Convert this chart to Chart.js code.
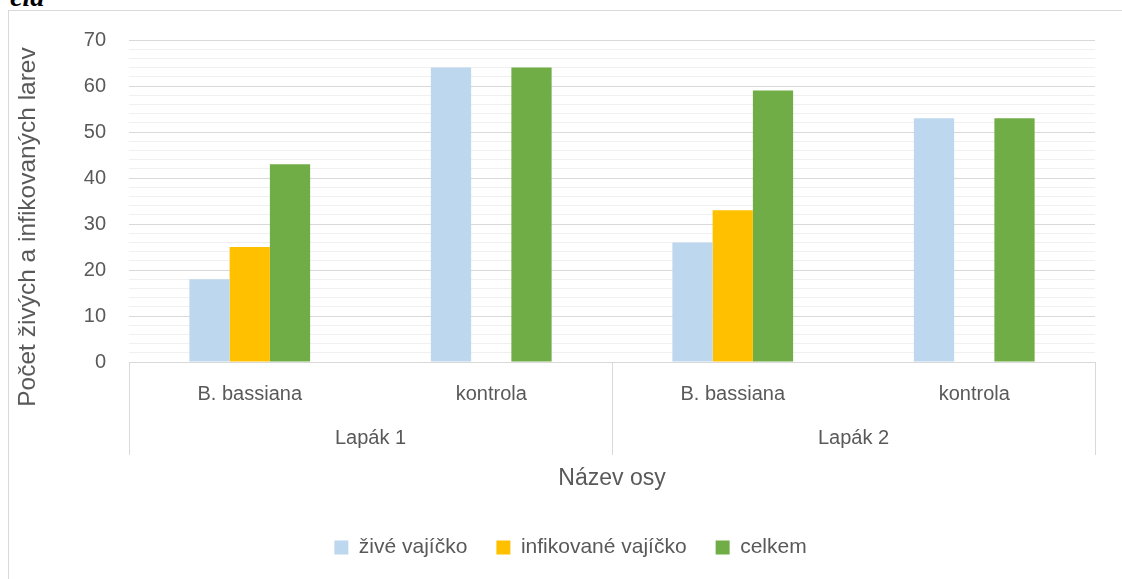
<!DOCTYPE html>
<html>
<head>
<meta charset="utf-8">
<script src="https://cdn.jsdelivr.net/npm/chart.js@4.4.1/dist/chart.umd.min.js"></script>
<style>
  html, body { margin: 0; padding: 0; background: #ffffff; overflow: hidden; }
  #wrap { position: relative; width: 1122px; height: 579px; overflow: hidden; }
  #frame { position: absolute; left: 8px; top: 10px; width: 1300px; height: 800px; border: 1px solid #d9d9d9; box-sizing: border-box; }
  #cap { position: absolute; left: 10px; top: -17px; font: bold italic 28px "Liberation Serif", serif; color: #000; line-height: 28px; }
  canvas { position: absolute; left: 0; top: 0; }
</style>
</head>
<body>
<div id="wrap">
  <div id="frame"></div>
  <div id="cap">ela</div>
  <canvas id="c" width="1122" height="579"></canvas>
</div>
<script>
const categories = ['B. bassiana', 'kontrola', 'B. bassiana', 'kontrola'];
const groups = ['Lapák 1', 'Lapák 2'];
const groupSpan = 2;
const ziveVajicko = [18, 64, 26, 53];
const infikovaneVajicko = [25, null, 33, null];
const celkem = [43, 64, 59, 53];
const seriesNames = ['živé vajíčko', 'infikované vajíčko', 'celkem'];
const yTitle = 'Počet živých a infikovaných larev';
const xTitle = 'Název osy';

const FONT = '"Liberation Sans", Arial, sans-serif';
const TXT = '#595959';

const legendShift = {
  id: 'legendShift',
  afterLayout(chart) {
    const lg = chart.legend;
    if (lg) { lg.left += 23; lg.right += 23; }
  }
};

const groupPlugin = {
  id: 'groupPlugin',
  afterDraw(chart) {
    const ctx = chart.ctx;
    const x = chart.scales.x;
    const area = chart.chartArea;
    const n = categories.length;
    const cw = x.width / n;
    const left = i => x.getPixelForValue(i) - cw / 2;
    ctx.save();
    ctx.strokeStyle = '#d9d9d9';
    ctx.lineWidth = 1;
    for (let g = 0; g <= groups.length; g++) {
      const idx = g * groupSpan;
      const px = idx < n ? left(idx) : x.getPixelForValue(n - 1) + cw / 2;
      const xx = Math.round(px) + 0.5;
      ctx.beginPath();
      ctx.moveTo(xx, area.bottom);
      ctx.lineTo(xx, 455);
      ctx.stroke();
    }
    ctx.fillStyle = TXT;
    ctx.font = '20px ' + FONT;
    ctx.textAlign = 'center';
    ctx.textBaseline = 'middle';
    groups.forEach((g, i) => {
      const a = left(i * groupSpan);
      const b = left(i * groupSpan) + cw * groupSpan;
      ctx.fillText(g, (a + b) / 2, 438);
    });
    // y axis title
    ctx.translate(28, 227);
    ctx.rotate(-Math.PI / 2);
    ctx.font = '24.5px ' + FONT;
    ctx.fillText(yTitle, 0, 0);
    ctx.restore();
  }
};

new Chart(document.getElementById('c'), {
  type: 'bar',
  data: {
    labels: categories,
    datasets: [
      { label: seriesNames[0], data: ziveVajicko, backgroundColor: '#BDD7EE' },
      { label: seriesNames[1], data: infikovaneVajicko, backgroundColor: '#FFC000' },
      { label: seriesNames[2], data: celkem, backgroundColor: '#70AD47' }
    ]
  },
  options: {
    responsive: false,
    animation: false,
    devicePixelRatio: 1,
    layout: { padding: { left: 0, right: 27, top: 40, bottom: 11 } },
    datasets: { bar: { categoryPercentage: 0.5, barPercentage: 1.0, borderWidth: 0 } },
    plugins: {
      tooltip: { enabled: false },
      legend: {
        position: 'bottom',
        labels: {
          boxWidth: 14, boxHeight: 14, padding: 29,
          color: TXT, font: { family: FONT, size: 21 }
        }
      }
    },
    scales: {
      x: {
        grid: { display: false, drawTicks: false },
        border: { display: false },
        ticks: { color: TXT, font: { family: FONT, size: 20 }, padding: 20, maxRotation: 0 },
        title: { display: true, text: xTitle, color: TXT, font: { family: FONT, size: 23 }, padding: { top: 0, bottom: 16 } },
        afterFit(s) { s.height = 146; }
      },
      y: {
        min: 0, max: 70,
        border: { display: false },
        grid: {
          drawTicks: false,
          color: c => (c.tick && c.tick.value % 10 === 0) ? '#d9d9d9' : '#f0f0f0',
          lineWidth: 1
        },
        ticks: {
          stepSize: 2, autoSkip: false, padding: 23,
          color: TXT, font: { family: FONT, size: 20 },
          callback: v => (v % 10 === 0 ? String(v) : '')
        },
        afterFit(s) { s.width = 129; }
      }
    }
  },
  plugins: [legendShift, groupPlugin]
});
</script>
</body>
</html>
